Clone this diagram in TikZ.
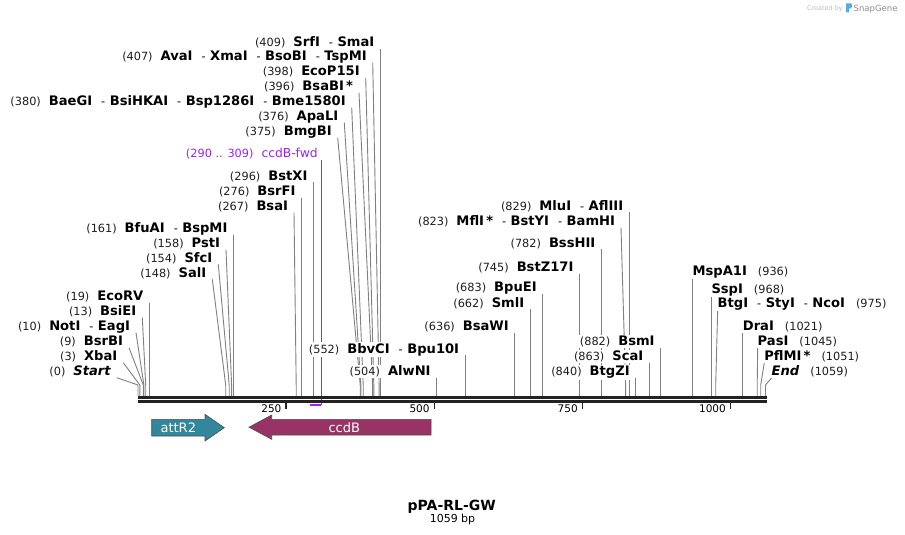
\documentclass[tikz,border=0pt]{standalone}
\usepackage{fontspec}
\setmainfont{DejaVu Sans}
\usetikzlibrary{calc}
\pgfdeclarelayer{paper}
\pgfdeclarelayer{bg}
\pgfsetlayers{paper,bg,main}
\definecolor{linegray}{RGB}{128,128,128}
\definecolor{bbone}{RGB}{34,34,34}
\definecolor{primerc}{RGB}{160,32,240}
\definecolor{attc}{RGB}{49,135,155}
\definecolor{ccdbc}{RGB}{153,51,102}
\definecolor{numc}{RGB}{30,30,30}
\definecolor{sgblue}{RGB}{90,170,230}
\newcommand\nfont{\fontsize{11.3}{13}\selectfont}
\newcommand\nb[1]{{\nfont\color{numc}(#1)}}
\newcommand\nm[1]{{\bfseries #1}}
\newcommand\gp{\hspace{8pt}}
\newcommand\gr{\hspace{11pt}}
\newcommand\dd{\hspace{9pt}{\nfont-}\hspace{4.5pt}}
\tikzset{
  lab/.style={font=\fontsize{13.1}{15}\selectfont, fill=white, inner sep=1pt, outer sep=0pt},
  sline/.style={draw=linegray, line width=0.9pt},
  primerline/.style={draw=primerc, line width=1pt},
  ticktext/.style={font=\fontsize{10.5}{12}\selectfont, inner sep=0pt, anchor=base east},
  tickmark/.style={draw=bbone, line width=1.6pt},
  feat/.style={draw=black!70, line width=0.6pt},
  feattext/.style={font=\fontsize{13}{15}\selectfont, text=white, inner sep=0pt}
}
\newcommand\lsite[5]{%
  \coordinate (s#1) at (#4,396);
  \coordinate (b#1) at (#4,385);
  \node[lab,anchor=base east] (l#1) at (#2-5,#3) {#5};
  \begin{pgfonlayer}{bg}
  \draw[sline] ($(l#1.base east)+(5,2)$) -- (b#1) -- (s#1);
  \end{pgfonlayer}}
\newcommand\rsite[5]{%
  \coordinate (s#1) at (#4,396);
  \coordinate (b#1) at (#4,385);
  \node[lab,anchor=base west] (r#1) at (#2-1,#3) {#5};
  \begin{pgfonlayer}{bg}
  \draw[sline] ($(r#1.base west)+(1,2)$) -- (b#1) -- (s#1);
  \end{pgfonlayer}}
\begin{document}
\begin{tikzpicture}[x=1pt,y=-1pt]
\begin{pgfonlayer}{paper}
\fill[white] (0,0) rectangle (905,535);
\end{pgfonlayer}
\useasboundingbox (0,0) rectangle (905,535);

% left-side labels
\lsite{a409}{380.3}{46.7}{380.3}{\nb{409}\gp\nm{SrfI}\dd\nm{SmaI}}
\lsite{a407}{372.7}{60.7}{379.1}{\nb{407}\gp\nm{AvaI}\dd\nm{XmaI}\dd\nm{BsoBI}\dd\nm{TspMI}}
\lsite{a398}{365.7}{75.7}{373.8}{\nb{398}\gp\nm{EcoP15I}}
\lsite{a396}{359.0}{90.7}{372.6}{\nb{396}\gp\nm{BsaBI\,*}}
\lsite{a380}{351.7}{105.7}{363.2}{\nb{380}\gp\nm{BaeGI}\dd\nm{BsiHKAI}\dd\nm{Bsp1286I}\dd\nm{Bme1580I}}
\lsite{a376}{344.3}{120.7}{360.8}{\nb{376}\gp\nm{ApaLI}}
\lsite{a375}{337.7}{135.7}{360.2}{\nb{375}\gp\nm{BmgBI}}
\lsite{a296}{313.4}{180.0}{313.4}{\nb{296}\gp\nm{BstXI}}
\lsite{a276}{301.5}{195.7}{301.5}{\nb{276}\gp\nm{BsrFI}}
\lsite{a267}{294.0}{210.7}{296.2}{\nb{267}\gp\nm{BsaI}}
\lsite{a161}{233.4}{232.7}{233.4}{\nb{161}\gp\nm{BfuAI}\dd\nm{BspMI}}
\lsite{a158}{226.0}{247.7}{231.6}{\nb{158}\gp\nm{PstI}}
\lsite{a154}{218.3}{262.3}{229.2}{\nb{154}\gp\nm{SfcI}}
\lsite{a148}{212.3}{277.3}{225.7}{\nb{148}\gp\nm{SalI}}
\lsite{a19}{149.3}{300.7}{149.3}{\nb{19}\gp\nm{EcoRV}}
\lsite{a13}{142.3}{315.7}{145.7}{\nb{13}\gp\nm{BsiEI}}
\lsite{a10}{136.0}{330.7}{143.9}{\nb{10}\gp\nm{NotI}\dd\nm{EagI}}
\lsite{a9}{129.0}{345.7}{143.3}{\nb{9}\gp\nm{BsrBI}}
\lsite{a3}{123.3}{360.7}{139.8}{\nb{3}\gp\nm{XbaI}}
\lsite{a0}{116.7}{375.7}{138.0}{\nb{0}\gp{\bfseries\itshape Start}}
\lsite{a552}{465.1}{353.0}{465.1}{\nb{552}\gp\nm{BbvCI}\dd\nm{Bpu10I}}
\lsite{a504}{436.6}{375.7}{436.6}{\nb{504}\gp\nm{AlwNI}}
\lsite{a636}{514.8}{330.7}{514.8}{\nb{636}\gp\nm{BsaWI}}
\lsite{a662}{530.2}{307.3}{530.2}{\nb{662}\gp\nm{SmlI}}
\lsite{a683}{542.7}{291.7}{542.7}{\nb{683}\gp\nm{BpuEI}}
\lsite{a745}{579.4}{271.7}{579.4}{\nb{745}\gp\nm{BstZ17I}}
\lsite{a782}{601.3}{247.3}{601.3}{\nb{782}\gp\nm{BssHII}}
\lsite{a823}{621.0}{225.7}{625.6}{\nb{823}\gp\nm{MflI\,*}\dd\nm{BstYI}\dd\nm{BamHI}}
\lsite{a829}{629.2}{210.0}{629.2}{\nb{829}\gp\nm{MluI}\dd\nm{AflIII}}
\lsite{a840}{635.7}{375.7}{635.7}{\nb{840}\gp\nm{BtgZI}}
\lsite{a863}{649.3}{360.7}{649.3}{\nb{863}\gp\nm{ScaI}}
\lsite{a882}{660.6}{345.7}{660.6}{\nb{882}\gp\nm{BsmI}}

% right-side labels
\rsite{a936}{692.6}{275.7}{692.6}{\nm{MspA1I}\gr\nb{936}}
\rsite{a968}{711.5}{293.3}{711.5}{\nm{SspI}\gr\nb{968}}
\rsite{a975}{717.7}{307.3}{715.7}{\nm{BtgI}\dd\nm{StyI}\dd\nm{NcoI}\gr\nb{975}}
\rsite{a1021}{742.9}{330.7}{742.9}{\nm{DraI}\gr\nb{1021}}
\rsite{a1045}{757.7}{345.7}{757.2}{\nm{PasI}\gr\nb{1045}}
\rsite{a1051}{764.3}{360.7}{760.7}{\nm{PflMI\,*}\gr\nb{1051}}
\rsite{a1059}{771.7}{375.7}{765.5}{{\bfseries\itshape End}\gr\nb{1059}}

% primer
\node[lab,anchor=base east,text=primerc] (lp) at (318.7,157.7) {{\nfont(290 .. 309)}\gp{\fontsize{12.3}{14}\selectfont ccdB-fwd}};
\coordinate (ptop) at (321.1,160);
\coordinate (p0) at (309.8,405.3);
\coordinate (p1) at (321.1,405.3);
\begin{pgfonlayer}{bg}
\draw[primerline] (ptop) -- (p1);
\end{pgfonlayer}
\draw[draw=primerc, line width=2pt] (p0) -- (p1);

% backbone
\draw[draw=bbone, line width=3pt] (138,397.2) -- (766.5,397.2);
\draw[draw=bbone, line width=2.7pt] (138,401.3) -- (766.5,401.3);

% ticks
\foreach \v/\x in {250/286.1, 500/434.3, 750/582.4, 1000/730.5}{
  \draw[tickmark] (\x,402.7) -- (\x,408.6);
  \node[ticktext] at (\x-4.5,412) {\v};
}

% features
\draw[feat, fill=attc] (151.7,419.3) -- (205,419.3) -- (205,414.3) -- (224.3,427.7) -- (205,441) -- (205,436) -- (151.7,436) -- cycle;
\node[feattext] (fatt) at (178.3,427.7) {attR2};
\draw[feat, fill=ccdbc] (431,419.3) -- (271.7,419.3) -- (271.7,415) -- (249,427.2) -- (271.7,439.3) -- (271.7,435) -- (431,435) -- cycle;
\node[feattext] (fccdb) at (344.3,427.2) {ccdB};

% title
\node[font=\bfseries\fontsize{14}{16}\selectfont, anchor=base, inner sep=0pt] (title) at (451.7,510) {pPA-RL-GW};
\node[font=\fontsize{11}{13}\selectfont, anchor=base, inner sep=0pt] (len) at (452.5,522.7) {1059 bp};

% created by
\node[font=\fontsize{6.5}{8}\selectfont, text=black!25, anchor=base east, inner sep=0pt] (cb) at (843,10.5) {Created by};
\fill[sgblue] (846,3.5) -- (851.5,3.5) .. controls (852.5,5) and (852.5,7.5) .. (851,8.5) -- (849,8.5) -- (849,12.5) -- (846,12.5) -- cycle;
\node[font=\fontsize{8.5}{10}\selectfont, text=black!45, anchor=base west, inner sep=0pt] (sg) at (853.5,11.5) {SnapGene};
\end{tikzpicture}
\end{document}
